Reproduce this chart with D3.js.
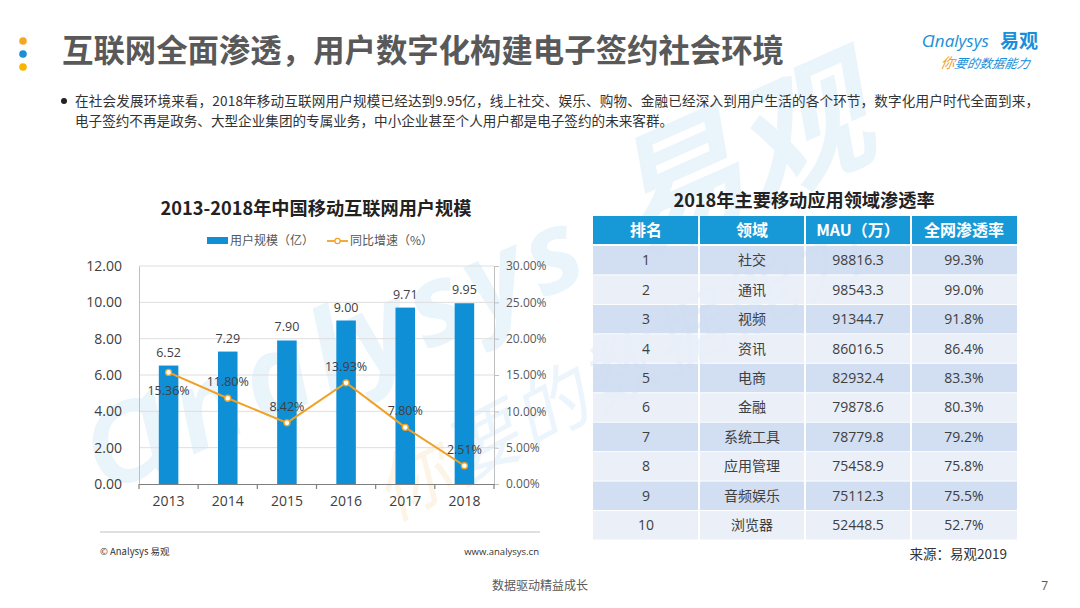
<!DOCTYPE html>
<html>
<head>
<meta charset="utf-8">
<script src="https://cdn.jsdelivr.net/npm/d3@7/dist/d3.min.js"></script>
<style>
  body { margin: 0; background: #fff; }
  svg { display: block; font-family: "Open Sans", "Noto Sans CJK SC", sans-serif; }
</style>
</head>
<body>
<svg id="page" width="1080" height="608"></svg>
<script>
// chart data
const years = ["2013", "2014", "2015", "2016", "2017", "2018"];
const users = [6.52, 7.29, 7.90, 9.00, 9.71, 9.95];
const growth = [0.1536, 0.1180, 0.0842, 0.1393, 0.0780, 0.0251];
const leftTicks = [0, 2, 4, 6, 8, 10, 12];
const rightTicks = [0, 0.05, 0.10, 0.15, 0.20, 0.25, 0.30];

// table data
const tableHead = ["排名", "领域", "MAU（万）", "全网渗透率"];
const ranks = ["1", "2", "3", "4", "5", "6", "7", "8", "9", "10"];
const fields = ["社交", "通讯", "视频", "资讯", "电商", "金融", "系统工具", "应用管理", "音频娱乐", "浏览器"];
const mau = ["98816.3", "98543.3", "91344.7", "86016.5", "82932.4", "79878.6", "78779.8", "75458.9", "75112.3", "52448.5"];
const rate = ["99.3%", "99.0%", "91.8%", "86.4%", "83.3%", "80.3%", "79.2%", "75.8%", "75.5%", "52.7%"];

const blue = "#0f8fd6";
const orange = "#f0a125";
const txt = "#404040";
const cjk = "'Noto Sans CJK SC', sans-serif";

const svg = d3.select("#page");

// watermark (the logo, large and faint)
const wm1 = svg.append("text").attr("transform", "translate(105,494) rotate(-24)")
  .attr("font-weight", "bold").attr("font-style", "italic").attr("fill", "#eaf4fb");
wm1.append("tspan").attr("font-size", 112).attr("letter-spacing", 8).text("Ɑnalysys ");
wm1.append("tspan").attr("font-size", 136).attr("font-family", cjk).text("易观");
const wm2 = svg.append("text").attr("transform", "translate(392,522) rotate(-28)")
  .attr("font-size", 74).attr("font-style", "italic").attr("font-family", cjk).attr("letter-spacing", 4);
wm2.append("tspan").attr("fill", "#fdf4e8").text("你");
wm2.append("tspan").attr("fill", "#edf5fc").text("要的数据能力");

// header dots
[["#f5a623", 41], ["#1a8fd8", 54], ["#f7b500", 67]].forEach(([c, y]) => {
  svg.append("circle").attr("cx", 23).attr("cy", y).attr("r", 3.8).attr("fill", c);
});

svg.append("text").attr("x", 62).attr("y", 62)
  .attr("font-family", cjk).attr("font-size", 31.4).attr("font-weight", "bold")
  .attr("fill", "#595959").text("互联网全面渗透，用户数字化构建电子签约社会环境");

// logo
const logo = svg.append("g");
logo.append("text").attr("x", 922).attr("y", 47)
  .attr("font-size", 17).attr("font-style", "italic").attr("fill", "#1a8fd8")
  .text("Ɑnalysys");
logo.append("text").attr("x", 1000).attr("y", 48)
  .attr("font-family", cjk).attr("font-size", 19).attr("font-weight", "bold").attr("fill", "#1a8fd8")
  .text("易观");
const slogan = logo.append("text").attr("x", 940).attr("y", 68)
  .attr("font-family", cjk).attr("font-size", 12.5).attr("font-style", "italic")
  .attr("transform", "skewX(-10)").attr("transform-origin", "940 68");
slogan.append("tspan").attr("fill", "#f39a2b").attr("font-size", 14).text("你");
slogan.append("tspan").attr("fill", "#1a8fd8").text("要的数据能力");

// bullet paragraph
svg.append("circle").attr("cx", 64).attr("cy", 101).attr("r", 3).attr("fill", "#222");
const para = [
  "在社会发展环境来看，2018年移动互联网用户规模已经达到9.95亿，线上社交、娱乐、购物、金融已经深入到用户生活的各个环节，数字化用户时代全面到来，",
  "电子签约不再是政务、大型企业集团的专属业务，中小企业甚至个人用户都是电子签约的未来客群。"
];
para.forEach((s, i) => {
  const t = svg.append("text").attr("x", 75).attr("y", 106 + i * 20)
    .attr("font-family", cjk).attr("font-size", 13.6).attr("fill", "#333").text(s);
  if (i === 0) t.attr("textLength", 964).attr("lengthAdjust", "spacing");
});

// ---------- combo chart ----------
const plot = { left: 139, right: 494, top: 266, bottom: 484 };

const x = d3.scaleBand().domain(years).range([plot.left, plot.right]).paddingInner(0.67).paddingOuter(0.335);
const yL = d3.scaleLinear().domain([0, 12]).range([plot.bottom, plot.top]);
const yR = d3.scaleLinear().domain([0, 0.30]).range([plot.bottom, plot.top]);

svg.append("text").attr("x", 316).attr("y", 215).attr("text-anchor", "middle")
  .attr("font-family", cjk).attr("font-size", 18.2).attr("font-weight", "bold").attr("fill", "#222")
  .text("2013-2018年中国移动互联网用户规模");

// legend
const lg = svg.append("g").attr("font-family", cjk).attr("font-size", 12).attr("fill", "#555");
lg.append("rect").attr("x", 207).attr("y", 237).attr("width", 21).attr("height", 7).attr("fill", blue);
lg.append("text").attr("x", 230).attr("y", 245).text("用户规模（亿）");
lg.append("line").attr("x1", 327).attr("x2", 348).attr("y1", 241).attr("y2", 241)
  .attr("stroke", orange).attr("stroke-width", 1.8);
lg.append("circle").attr("cx", 337.5).attr("cy", 241).attr("r", 2.6)
  .attr("fill", "#fff").attr("stroke", orange).attr("stroke-width", 1.2);
lg.append("text").attr("x", 350).attr("y", 245).text("同比增速（%）");

// gridlines
svg.append("g").selectAll("line").data(leftTicks.filter(d => d > 0)).join("line")
  .attr("x1", plot.left).attr("x2", plot.right)
  .attr("y1", d => yL(d)).attr("y2", d => yL(d))
  .attr("stroke", "#dedede").attr("stroke-width", 1);

// left axis
const axL = svg.append("g").attr("transform", `translate(${plot.left},0)`)
  .call(d3.axisLeft(yL).tickValues(leftTicks).tickFormat(d3.format(".2f")).tickSize(0).tickPadding(17));
axL.select(".domain").attr("stroke", "#bfbfbf");
axL.selectAll("text").attr("font-size", 14).attr("fill", txt).attr("font-family", "'Open Sans', sans-serif");

// right axis
const axR = svg.append("g").attr("transform", `translate(${plot.right},0)`)
  .call(d3.axisRight(yR).tickValues(rightTicks).tickFormat(d3.format(".2%")).tickSize(5).tickSizeOuter(0).tickPadding(7));
axR.select(".domain").attr("stroke", "#bfbfbf");
axR.selectAll(".tick line").attr("stroke", "#bfbfbf");
axR.selectAll("text").attr("font-size", 12).attr("fill", "#595959").attr("font-family", "'Open Sans', sans-serif");

// bars
svg.append("g").selectAll("rect").data(years).join("rect")
  .attr("x", d => x(d)).attr("width", x.bandwidth())
  .attr("y", (d, i) => yL(users[i])).attr("height", (d, i) => yL(0) - yL(users[i]))
  .attr("fill", blue);

svg.append("g").selectAll("text").data(years).join("text")
  .attr("x", d => x(d) + x.bandwidth() / 2).attr("y", (d, i) => yL(users[i]) - 9)
  .attr("text-anchor", "middle").attr("font-size", 12.5).attr("fill", txt)
  .text((d, i) => users[i].toFixed(2));

// bottom axis
const axB = svg.append("g").attr("transform", `translate(0,${plot.bottom})`)
  .call(d3.axisBottom(x).tickSize(0).tickPadding(12));
axB.select(".domain").attr("stroke", "#7f7f7f").attr("stroke-width", 1.2);
axB.selectAll("text").attr("font-size", 14).attr("fill", txt).attr("font-family", "'Open Sans', sans-serif");
const gap = (x.step() - x.bandwidth()) / 2;
const bounds = years.map(d => x(d) - gap).concat([plot.right]);
axB.append("g").selectAll("line").data(bounds).join("line")
  .attr("x1", d => d).attr("x2", d => d).attr("y1", 0).attr("y2", 5)
  .attr("stroke", "#7f7f7f").attr("stroke-width", 1.2);

// growth line
const cx = d => x(d) + x.bandwidth() / 2;
const line = d3.line().x((d, i) => cx(years[i])).y(d => yR(d));
svg.append("path").datum(growth).attr("d", line)
  .attr("fill", "none").attr("stroke", orange).attr("stroke-width", 2);
svg.append("g").selectAll("circle").data(growth).join("circle")
  .attr("cx", (d, i) => cx(years[i])).attr("cy", d => yR(d)).attr("r", 3)
  .attr("fill", "#fff").attr("stroke", orange).attr("stroke-width", 1.3);
svg.append("g").selectAll("text").data(growth).join("text")
  .attr("x", (d, i) => cx(years[i])).attr("y", (d, i) => i === 0 ? yR(d) + 23 : yR(d) - 12)
  .attr("text-anchor", "middle").attr("font-size", 12.5).attr("fill", txt)
  .text(d => (d * 100).toFixed(2) + "%");

// chart footer
svg.append("line").attr("x1", 100).attr("x2", 540).attr("y1", 532).attr("y2", 532)
  .attr("stroke", "#bfbfbf").attr("stroke-width", 1);
svg.append("text").attr("x", 100).attr("y", 555).attr("font-size", 9.5).attr("fill", "#333")
  .attr("font-family", cjk).text("© Analysys 易观");
svg.append("text").attr("x", 539).attr("y", 555).attr("text-anchor", "end")
  .attr("font-size", 9.5).attr("fill", "#333").text("www.analysys.cn");

// ---------- table ----------
svg.append("text").attr("x", 804).attr("y", 207).attr("text-anchor", "middle")
  .attr("font-family", cjk).attr("font-size", 18.2).attr("font-weight", "bold").attr("fill", "#222")
  .text("2018年主要移动应用领域渗透率");

const colX = d3.scaleBand().domain(d3.range(4)).range([593, 1017]);
const rowY = d3.scaleBand().domain(d3.range(10)).range([245.5, 540]);
const columns = [ranks, fields, mau, rate];

const head = svg.append("g");
head.selectAll("rect").data(tableHead).join("rect")
  .attr("x", (d, i) => colX(i) + (i ? 1 : 0)).attr("width", (d, i) => colX.bandwidth() - (i ? 1 : 0) - (i < 3 ? 1 : 0))
  .attr("y", 216).attr("height", 28).attr("fill", "#1799d8");
head.selectAll("text").data(tableHead).join("text")
  .attr("x", (d, i) => colX(i) + colX.bandwidth() / 2).attr("y", 236)
  .attr("text-anchor", "middle").attr("font-family", cjk).attr("font-size", 16)
  .attr("font-weight", "bold").attr("fill", "#fff").text(d => d);

const body = svg.append("g");
ranks.forEach((r, ri) => {
  const fill = ri % 2 === 0 ? "#cfdcf0" : "#e8eef8";
  columns.forEach((col, ci) => {
    body.append("rect")
      .attr("x", colX(ci) + (ci ? 1 : 0)).attr("width", colX.bandwidth() - (ci ? 1 : 0) - (ci < 3 ? 1 : 0))
      .attr("y", rowY(ri) + 0.5).attr("height", rowY.bandwidth() - 1)
      .attr("fill", fill).attr("opacity", 0.93);
    body.append("text")
      .attr("x", colX(ci) + colX.bandwidth() / 2).attr("y", rowY(ri) + rowY.bandwidth() / 2 + 5)
      .attr("text-anchor", "middle").attr("font-family", ci === 1 ? cjk : "'Open Sans', sans-serif")
      .attr("font-size", 14).attr("fill", txt).text(col[ri]);
  });
});

svg.append("text").attr("x", 1007).attr("y", 559).attr("text-anchor", "end")
  .attr("font-family", cjk).attr("font-size", 13.5).attr("fill", "#333").text("来源：易观2019");

// page footer
svg.append("text").attr("x", 540).attr("y", 590).attr("text-anchor", "middle")
  .attr("font-family", cjk).attr("font-size", 12).attr("fill", "#595959").text("数据驱动精益成长");
svg.append("text").attr("x", 1048).attr("y", 590).attr("text-anchor", "end")
  .attr("font-size", 12).attr("fill", "#595959").text("7");
</script>
</body>
</html>
